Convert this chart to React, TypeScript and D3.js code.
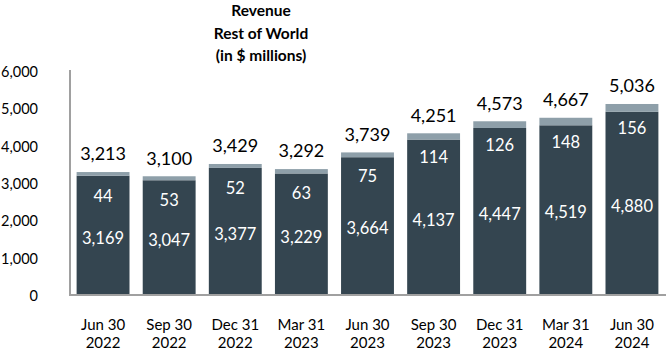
import React, { useEffect, useRef } from 'react';
import * as d3 from 'd3';

const periods = ['Jun 30', 'Sep 30', 'Dec 31', 'Mar 31', 'Jun 30', 'Sep 30', 'Dec 31', 'Mar 31', 'Jun 30'];
const years = ['2022', '2022', '2022', '2023', '2023', '2023', '2023', '2024', '2024'];
const baseValues = [3169, 3047, 3377, 3229, 3664, 4137, 4447, 4519, 4880];
const topValues = [44, 53, 52, 63, 75, 114, 126, 148, 156];
const totals = [3213, 3100, 3429, 3292, 3739, 4251, 4573, 4667, 5036];
const yTicks = [0, 1000, 2000, 3000, 4000, 5000, 6000];
const titleLines = ['Revenue', 'Rest of World', '(in $ millions)'];

const W = 670;
const H = 352;
const font = 'Lato, "Open Sans", sans-serif';
const dark = '#344550';
const light = '#8e9fa9';

const drawChart = (el: SVGSVGElement) => {
  const svg = d3.select(el);
  svg.selectAll('*').remove();

  const x = d3.scaleBand<number>()
    .domain(d3.range(periods.length))
    .range([70, 665])
    .paddingInner(0.2)
    .paddingOuter(0.1);

  const y = d3.scaleLinear().domain([0, 6000]).range([294, 70]);

  // title
  svg.append('g')
    .selectAll('text')
    .data(titleLines)
    .enter()
    .append('text')
    .attr('x', 261)
    .attr('y', (d, i) => 11 + i * 22.5)
    .attr('dy', '0.35em')
    .attr('text-anchor', 'middle')
    .attr('font-family', font)
    .attr('font-weight', 'bold')
    .attr('font-size', 15.5)
    .attr('fill', '#000')
    .text(d => d);

  // y tick labels
  svg.append('g')
    .selectAll('text')
    .data(yTicks)
    .enter()
    .append('text')
    .attr('x', 38)
    .attr('y', d => y(d) + 2)
    .attr('dy', '0.35em')
    .attr('text-anchor', 'end')
    .attr('font-family', font)
    .attr('font-size', 14.5)
    .attr('fill', '#000')
    .text(d => d3.format(',')(d));

  // bars
  const bars = svg.append('g');
  bars.selectAll('.base')
    .data(baseValues)
    .enter()
    .append('rect')
    .attr('x', (d, i) => x(i)!)
    .attr('y', d => y(d))
    .attr('width', x.bandwidth())
    .attr('height', d => y(0) - y(d))
    .attr('fill', dark);

  bars.selectAll('.top')
    .data(topValues)
    .enter()
    .append('rect')
    .attr('x', (d, i) => x(i)!)
    .attr('y', (d, i) => y(baseValues[i] + d) - 2)
    .attr('width', x.bandwidth())
    .attr('height', (d, i) => y(baseValues[i]) - y(baseValues[i] + d) + 2)
    .attr('fill', light);

  // axes lines
  svg.append('line')
    .attr('x1', 70).attr('x2', 70)
    .attr('y1', y(6000)).attr('y2', y(0) + 1)
    .attr('stroke', '#a0a0a0').attr('stroke-width', 2);
  svg.append('line')
    .attr('x1', 69).attr('x2', 666)
    .attr('y1', y(0) + 1).attr('y2', y(0) + 1)
    .attr('stroke', '#a0a0a0').attr('stroke-width', 2);

  const cx = (i: number) => x(i)! + x.bandwidth() / 2;

  // base labels
  svg.append('g')
    .selectAll('text')
    .data(baseValues)
    .enter()
    .append('text')
    .attr('x', (d, i) => cx(i))
    .attr('y', d => (y(d) + y(0)) / 2 + 3)
    .attr('dy', '0.35em')
    .attr('text-anchor', 'middle')
    .attr('font-family', font)
    .attr('font-size', 16.5)
    .attr('fill', '#fff')
    .text(d => d3.format(',')(d));

  // top segment labels
  svg.append('g')
    .selectAll('text')
    .data(topValues)
    .enter()
    .append('text')
    .attr('x', (d, i) => cx(i))
    .attr('y', (d, i) => y(totals[i]) + 22)
    .attr('dy', '0.35em')
    .attr('text-anchor', 'middle')
    .attr('font-family', font)
    .attr('font-size', 16.5)
    .attr('fill', '#fff')
    .text(d => d);

  // totals
  svg.append('g')
    .selectAll('text')
    .data(totals)
    .enter()
    .append('text')
    .attr('x', (d, i) => cx(i))
    .attr('y', d => y(d) - 20)
    .attr('dy', '0.35em')
    .attr('text-anchor', 'middle')
    .attr('font-family', font)
    .attr('font-size', 18)
    .attr('fill', '#000')
    .text(d => d3.format(',')(d));

  // x labels
  const xl = svg.append('g');
  xl.selectAll('.p')
    .data(periods)
    .enter()
    .append('text')
    .attr('x', (d, i) => cx(i))
    .attr('y', 325)
    .attr('dy', '0.35em')
    .attr('text-anchor', 'middle')
    .attr('font-family', font)
    .attr('font-size', 15)
    .attr('fill', '#000')
    .text(d => d);
  xl.selectAll('.yr')
    .data(years)
    .enter()
    .append('text')
    .attr('x', (d, i) => cx(i))
    .attr('y', 343)
    .attr('dy', '0.35em')
    .attr('text-anchor', 'middle')
    .attr('font-family', font)
    .attr('font-size', 15)
    .attr('fill', '#000')
    .text(d => d);
};

const App = () => {
  const ref = useRef<SVGSVGElement>(null);
  useEffect(() => {
    if (ref.current) drawChart(ref.current);
  }, []);
  return (
    <svg
      ref={ref}
      width={W}
      height={H}
      style={{ position: 'absolute', left: 0, top: 0, background: '#fff' }}
    />
  );
};

export default App;
